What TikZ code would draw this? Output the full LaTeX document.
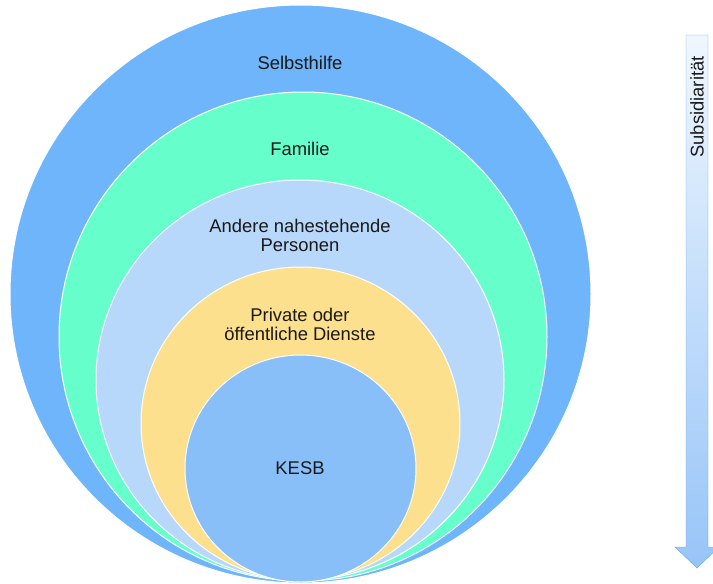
\documentclass[tikz,border=0pt]{standalone}
\usepackage{fontspec}
\setmainfont{Liberation Sans}

\definecolor{selbstblue}{HTML}{6EB5FB}
\definecolor{familygreen}{HTML}{66FFCC}
\definecolor{otherblue}{HTML}{B8D8FB}
\definecolor{serviceyellow}{HTML}{FDE08E}
\definecolor{kesbblue}{HTML}{88BFF9}
\definecolor{arrowblue}{HTML}{7DB6F6}
\definecolor{arrowline}{HTML}{6AA6E6}

\tikzset{
  ring/.style={draw=white, line width=1pt},
  ringtext/.style={align=center, text=black!90, font=\fontsize{18.4}{19}\selectfont}
}

\begin{document}
\begin{tikzpicture}[x=1pt, y=-1pt]
    % Frame of the picture
    \useasboundingbox (0,0) rectangle (713,584);

    % Nested circles, all touching at the bottom
    \filldraw[ring, fill=selbstblue] (300.5,294) ellipse [x radius=290.5, y radius=289];
    \filldraw[ring, fill=familygreen] (303,336.5) ellipse [x radius=244, y radius=244.5];
    \filldraw[ring, fill=otherblue] (300,380) ellipse [x radius=204, y radius=200];
    \filldraw[ring, fill=serviceyellow] (300.5,423.5) ellipse [x radius=159.5, y radius=156.5];
    \filldraw[ring, fill=kesbblue] (300.5,468.5) ellipse [x radius=115.5, y radius=113.5];

    % Labels of the circles
    \node[ringtext] (selbst) at (300,63) {Selbsthilfe};
    \node[ringtext] (familie) at (300,149) {Familie};
    \node[ringtext] (andere) at (300,235.5) {Andere nahestehende\\Personen};
    \node[ringtext] (dienste) at (300,324.5) {Private oder\\öffentliche Dienste};
    \node[ringtext] (kesb) at (300,468) {KESB};

    % Arrow on the right
    \draw[arrowline, top color=arrowblue!12, middle color=arrowblue!85, bottom color=arrowblue!80, shading angle=0]
        (686,35) -- (708,35) -- (708,547) -- (719,547) -- (697,568)
        -- (675,547) -- (686,547) -- cycle;
    \node[ringtext, rotate=90] (subsid) at (697,107) {Subsidiarität};

\end{tikzpicture}
\end{document}
